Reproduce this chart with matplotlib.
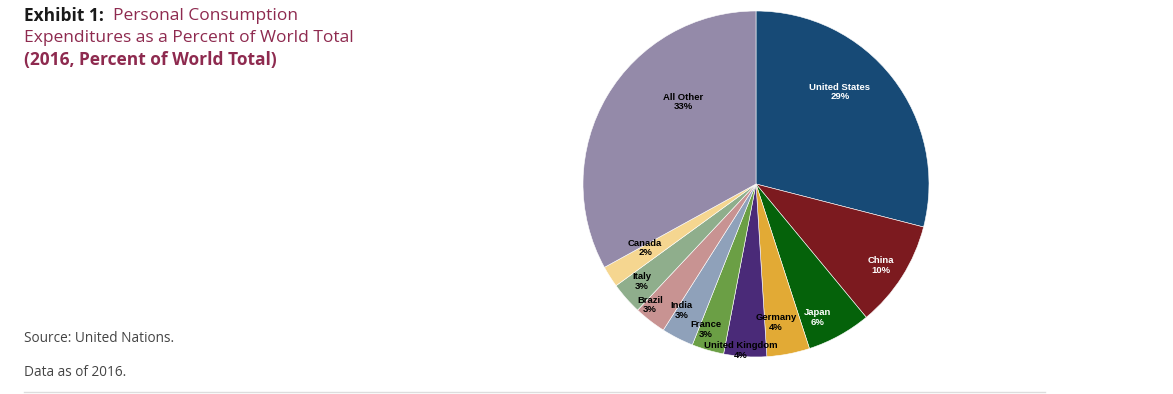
import matplotlib

matplotlib.use("Agg")
import matplotlib.pyplot as plt  # noqa: E402
import numpy as np  # noqa: E402

# Share of world personal consumption expenditures, 2016 (percent)
countries = ["United States", "China", "Japan", "Germany", "United Kingdom",
             "France", "India", "Brazil", "Italy", "Canada", "All Other"]
shares = [29, 10, 6, 4, 4, 3, 3, 3, 3, 2, 33]

colors = ["#174a76", "#7c1a1f", "#05620a", "#e2aa35", "#4a2a78",
          "#6b9f45", "#8fa1ba", "#c89392", "#8fae8c", "#f5d690", "#948aa9"]
label_colors = ["white", "white", "white"] + ["black"] * 8
# label placement: radius fraction and angular nudge (deg) from the wedge middle
label_r = [0.72, 0.86, 0.85, 0.81, 0.965, 0.89, 0.85, 0.93, 0.87, 0.74, 0.635]
label_nudge = [9.8, -0.8, -4.0, -2.6, -1.6, -2.7, -3.4, -3.4, -1.0, -2.4, -17.7]

TITLE_RED = "#8e2a4f"

fig = plt.figure(figsize=(11.73, 3.94), dpi=100)
W, H = 1173, 394
cx, cy, R = 756, 184, 173
ax = fig.add_axes([(cx - R) / W, (H - cy - R) / H, 2 * R / W, 2 * R / H])

wedges, _ = ax.pie(shares, colors=colors, startangle=90, counterclock=False,
                   wedgeprops=dict(edgecolor="white", linewidth=0.4))
ax.set_xlim(-1, 1)
ax.set_ylim(-1, 1)
ax.set_aspect("equal")
ax.axis("off")

for w, name, val, c, r, nd in zip(wedges, countries, shares, label_colors,
                                  label_r, label_nudge):
    mid = np.deg2rad((w.theta1 + w.theta2) / 2 + nd)
    ax.text(r * np.cos(mid), r * np.sin(mid), f"{name}\n{val}%", ha="center",
            va="center", fontsize=6.8, fontweight="bold", color=c,
            family="Liberation Sans", linespacing=1.1)

t1 = fig.text(24 / W, 1 - 16 / H, "Exhibit 1:", fontsize=12.5, fontweight="bold",
              family="Open Sans", color="#1a1a1a", va="center")
ax.annotate("  Personal Consumption", xy=(1, 0.5), xycoords=t1, va="center",
            ha="left", fontsize=12.5, family="Open Sans", color=TITLE_RED,
            annotation_clip=False)
fig.text(24 / W, 1 - 38 / H, "Expenditures as a Percent of World Total",
         fontsize=12.5, family="Open Sans", color=TITLE_RED, va="center")
fig.text(24 / W, 1 - 60 / H, "(2016, Percent of World Total)", fontsize=12.5,
         fontweight="bold", family="Open Sans", color=TITLE_RED, va="center")

fig.text(24 / W, 1 - 338 / H, "Source: United Nations.", fontsize=9.8,
         family="Open Sans", color="#444444", va="center")
fig.text(24 / W, 1 - 372 / H, "Data as of 2016.", fontsize=9.8,
         family="Open Sans", color="#444444", va="center")
fig.add_artist(plt.Line2D([24 / W, 1045 / W], [1 - 392 / H] * 2,
                          color="#dddddd", linewidth=1))

fig.savefig("out.png", dpi=100)
